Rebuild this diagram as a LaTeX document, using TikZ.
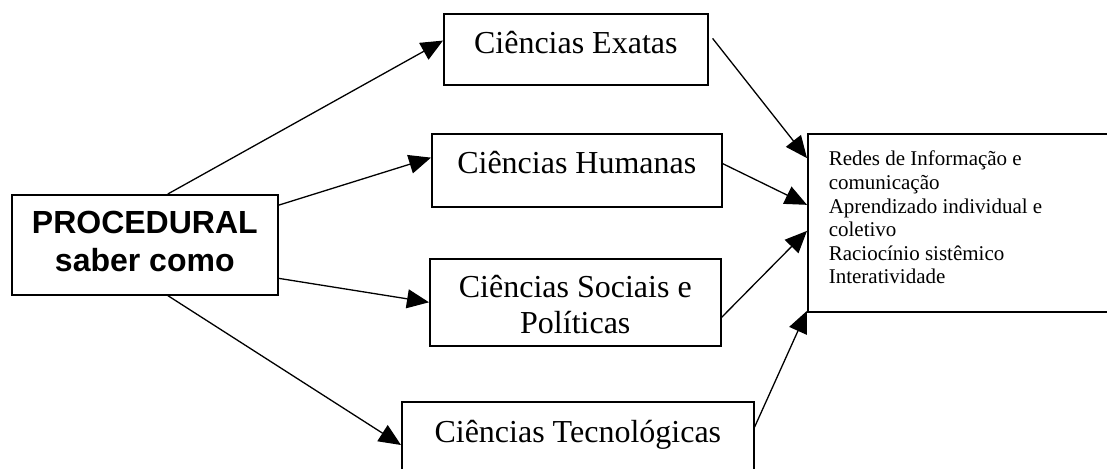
\documentclass[tikz,border=0pt]{standalone}
\usepackage{fontspec}
\setmainfont{Liberation Serif}
\newfontfamily\arialfont{Liberation Sans}
\usetikzlibrary{arrows.meta,calc}
\tikzset{
  box/.style={draw, line width=1.6pt, inner sep=0pt, anchor=north west},
  conn/.style={line width=1.3pt, -{Triangle[length=22pt,width=19pt]}},
}
\newcommand{\bigtext}{\fontsize{32}{36}\selectfont}
\begin{document}
\begin{tikzpicture}[x=1pt,y=-1pt]
\useasboundingbox (0,0) rectangle (1107,468);
\clip (0,0) rectangle (1107,468);
\node[box] (proc) at (11,194) {\parbox[c][100pt][t]{266pt}{\centering\arialfont\bfseries\fontsize{32}{38}\selectfont\rule{0pt}{39pt}PROCEDURAL\\saber como}};
\node[box] (exatas) at (443,13) {\parbox[c][71pt][t]{264pt}{\centering\bigtext\rule{0pt}{40pt}Ciências Exatas}};
\node[box] (humanas) at (431,133) {\parbox[c][73pt][t]{290pt}{\centering\bigtext\rule{0pt}{40pt}Ciências Humanas}};
\node[box] (sociais) at (429,258) {\parbox[c][87pt][t]{291pt}{\centering\bigtext\rule{0pt}{39pt}Ciências Sociais e\\Políticas}};
\node[box] (tecno) at (401,401) {\parbox[c][90pt][t]{352pt}{\centering\bigtext\rule{0pt}{41pt}Ciências Tecnológicas}};
\node[box] (redes) at (807,133) {\parbox[c][178pt][t]{310pt}{\raggedright\leftskip=21pt\fontsize{21}{23.6}\selectfont\rule{0pt}{32pt}Redes de Informação e\\comunicação\\Aprendizado individual e\\coletivo\\Raciocínio sistêmico\\Interatividade}};
% connectors from PROCEDURAL
\draw[conn] ($(proc.north west)!0.586!(proc.north east)$) -- ($(exatas.north west)!0.38!(exatas.south west)$);
\draw[conn] ($(proc.north east)!0.11!(proc.south east)$) -- ($(humanas.north west)!0.33!(humanas.south west)$);
\draw[conn] ($(proc.north east)!0.83!(proc.south east)$) -- (sociais.west);
\draw[conn] ($(proc.south west)!0.586!(proc.south east)$) -- ([yshift=-44pt]tecno.north west);
% connectors to the right box
\draw[conn] ([xshift=4pt]$(exatas.north east)!0.35!(exatas.south east)$) -- ($(redes.north west)!0.14!(redes.south west)$);
\draw[conn] ($(humanas.north east)!0.41!(humanas.south east)$) -- ($(redes.north west)!0.40!(redes.south west)$);
\draw[conn] ($(sociais.north east)!0.67!(sociais.south east)$) -- ($(redes.north west)!0.545!(redes.south west)$);
\draw[conn] ([yshift=-26pt]tecno.north east) -- ($(redes.north west)!0.99!(redes.south west)$);
\end{tikzpicture}
\end{document}
